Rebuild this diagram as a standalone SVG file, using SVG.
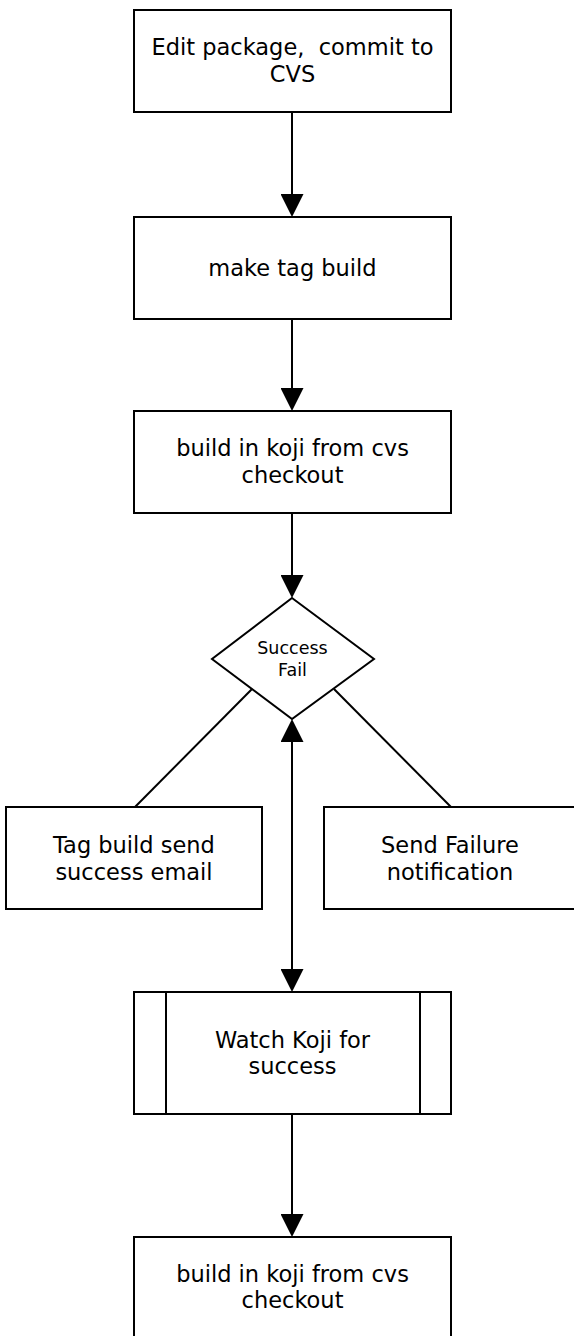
<svg xmlns="http://www.w3.org/2000/svg" width="574" height="1336" viewBox="0 0 574 1336">
<style>
.box{fill:#fff;stroke:#000;stroke-width:2}
.ln{fill:none;stroke:#000;stroke-width:2}
.t{font-family:"DejaVu Sans",sans-serif;font-size:22.5px;fill:#000;text-anchor:middle}
.s{font-family:"DejaVu Sans",sans-serif;font-size:17.5px;fill:#000;text-anchor:middle}
</style>
<defs>
<marker id="ah" viewBox="0 0 23 23" refX="2" refY="11.5" markerWidth="23" markerHeight="23" markerUnits="userSpaceOnUse" orient="auto-start-reverse">
<path d="M0,0 L23,11.5 L0,23 z" fill="#000"/>
</marker>
</defs>
<rect width="574" height="1336" fill="#fff"/>
<g id="connectors">
<line class="ln" x1="292" y1="112" x2="292" y2="196" marker-end="url(#ah)"/>
<line class="ln" x1="292" y1="319" x2="292" y2="390" marker-end="url(#ah)"/>
<line class="ln" x1="292" y1="513" x2="292" y2="577" marker-end="url(#ah)"/>
<line class="ln" x1="252" y1="689" x2="135" y2="807"/>
<line class="ln" x1="334" y1="689" x2="451" y2="807"/>
<line class="ln" x1="292" y1="740" x2="292" y2="971" marker-start="url(#ah)" marker-end="url(#ah)"/>
<line class="ln" x1="292" y1="1114" x2="292" y2="1216" marker-end="url(#ah)"/>
</g>
<g id="n1">
<rect class="box" x="134" y="10" width="317" height="102"/>
<text class="t" x="292.5" y="55" xml:space="preserve">Edit package,  commit to</text>
<text class="t" x="292.5" y="82">CVS</text>
</g>
<g id="n2">
<rect class="box" x="134" y="217" width="317" height="102"/>
<text class="t" x="292.5" y="276">make tag build</text>
</g>
<g id="n3">
<rect class="box" x="134" y="411" width="317" height="102"/>
<text class="t" x="292.5" y="456">build in koji from cvs</text>
<text class="t" x="292.5" y="483">checkout</text>
</g>
<g id="n4">
<polygon class="box" points="292,598 374,659 292,719 212,659"/>
<text class="s" x="292.5" y="654">Success</text>
<text class="s" x="292.5" y="676">Fail</text>
</g>
<g id="n5">
<rect class="box" x="6" y="807" width="256" height="102"/>
<text class="t" x="134" y="853">Tag build send</text>
<text class="t" x="134" y="880">success email</text>
</g>
<g id="n6">
<rect class="box" x="324" y="807" width="256" height="102"/>
<text class="t" x="450" y="853">Send Failure</text>
<text class="t" x="450" y="880">notification</text>
</g>
<g id="n7">
<rect class="box" x="134" y="992" width="317" height="122"/>
<line class="ln" x1="166" y1="992" x2="166" y2="1114"/>
<line class="ln" x1="420" y1="992" x2="420" y2="1114"/>
<text class="t" x="292.5" y="1048">Watch Koji for</text>
<text class="t" x="292.5" y="1074">success</text>
</g>
<g id="n8">
<rect class="box" x="134" y="1237" width="317" height="102"/>
<text class="t" x="292.5" y="1282">build in koji from cvs</text>
<text class="t" x="292.5" y="1308">checkout</text>
</g>
</svg>
